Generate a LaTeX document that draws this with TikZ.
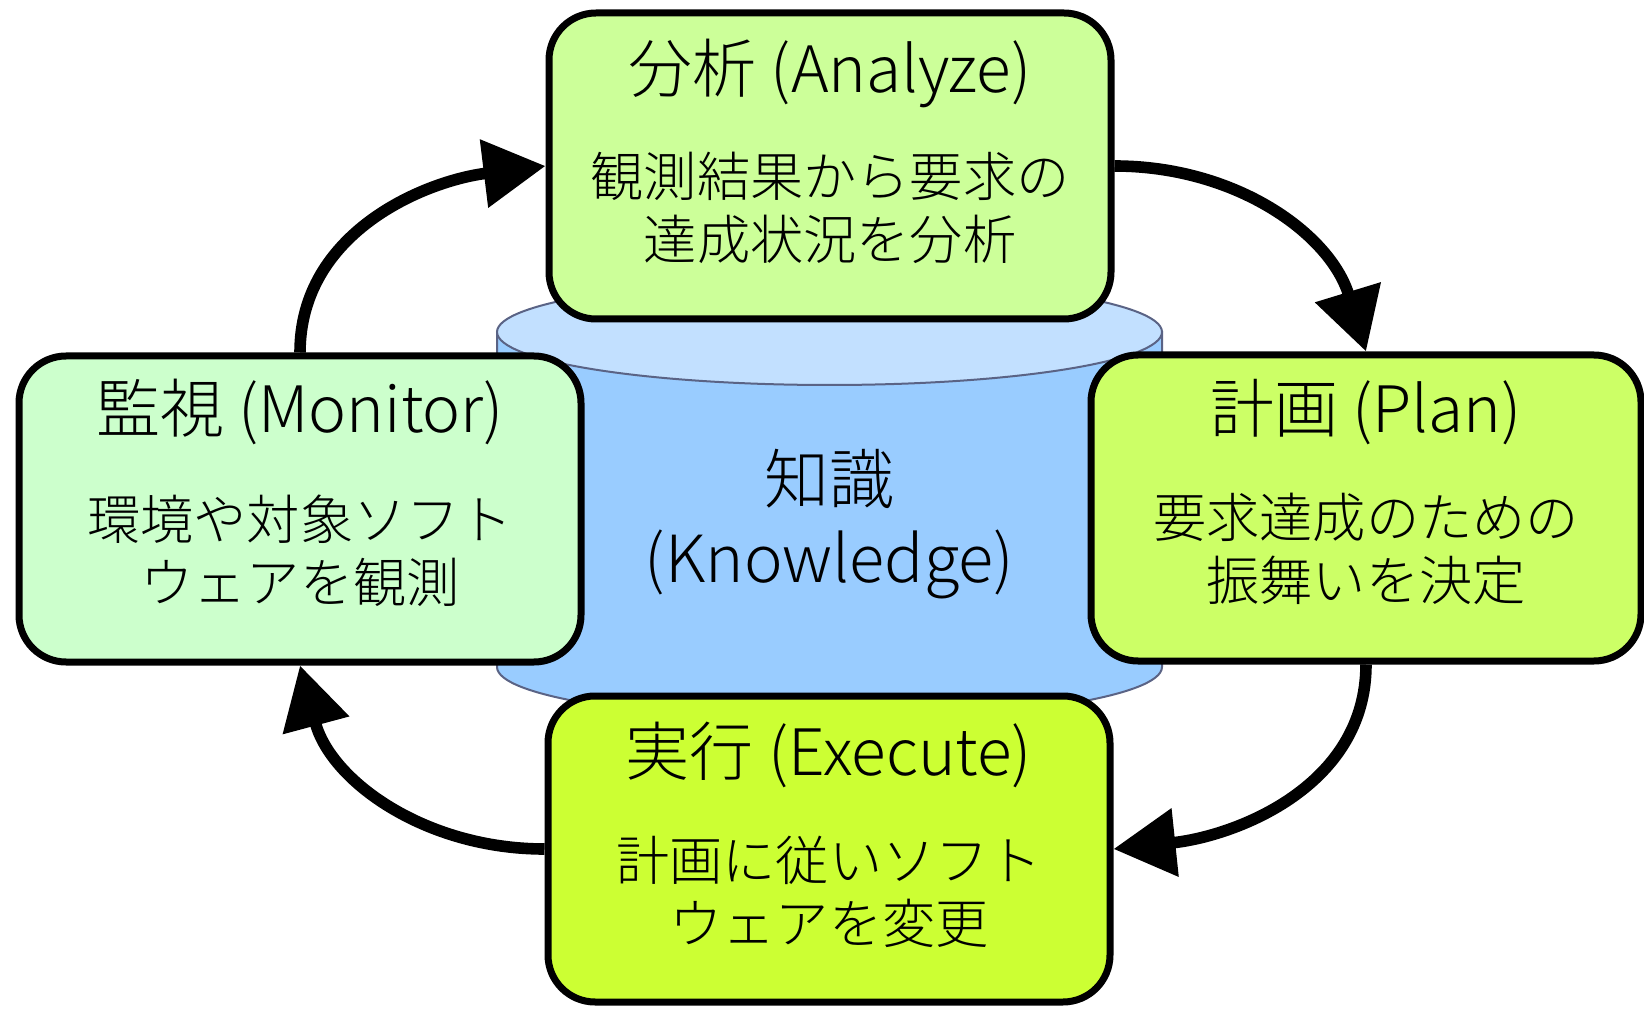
\documentclass[tikz,border=0pt]{standalone}
\usepackage{fontspec}
\setmainfont{Noto Sans CJK JP}[UprightFont={* Light}]
\usetikzlibrary{arrows.meta}
\definecolor{anafill}{HTML}{CCFF99}
\definecolor{monfill}{HTML}{CCFFCC}
\definecolor{planfill}{HTML}{CCFF66}
\definecolor{exefill}{HTML}{CCFF33}
\definecolor{cylside}{HTML}{99CCFF}
\definecolor{cyltop}{HTML}{C2E0FF}
\definecolor{cylline}{HTML}{5A6385}
\begin{document}
\begin{tikzpicture}[x=0.5pt,y=0.5pt,
  phase/.style={draw=black, line width=3.5pt, rounded corners=23.5pt,
    minimum width=281pt, minimum height=153pt, inner sep=0pt},
  phasetitle/.style={font=\fontsize{32}{36}\selectfont, inner sep=0pt},
  phasedesc/.style={font=\fontsize{26.6}{31.5}\selectfont, align=center, inner sep=0pt},
  flow/.style={line width=5.8pt, -{Triangle[length=31pt,width=33pt]}},
  store/.style={fill=cylside, draw=cylline, line width=1pt},
]
\useasboundingbox (0,0) rectangle (1644,1008);

% knowledge store (cylinder)
\path[store] (497,676) -- (497,341)
  arc[start angle=180, end angle=360, x radius=166.25pt, y radius=26.5pt]
  -- (1162,676) -- cycle;
\path[store, fill=cyltop] (829.5,676) ellipse [x radius=166.25pt, y radius=26.5pt];
\node[font=\fontsize{32.5}{39.5}\selectfont, align=center, inner sep=0pt]
  (know) at (829.5,484) {知識\\(Knowledge)};

% the four phases
\node[phase, fill=anafill] (ana) at (830,842) {};
\node[phasetitle] (anat) at (830,935) {分析 (Analyze)};
\node[phasedesc] (anad) at (830,800) {観測結果から要求の\\達成状況を分析};

\node[phase, fill=monfill] (mon) at (300,499) {};
\node[phasetitle] (mont) at (300,596) {監視 (Monitor)};
\node[phasedesc] (mond) at (300,457) {環境や対象ソフト\\ウェアを観測};

\node[phase, fill=planfill, minimum width=275pt] (plan) at (1366,500) {};
\node[phasetitle] (plant) at (1366,596) {計画 (Plan)};
\node[phasedesc] (pland) at (1366,459) {要求達成のための\\振舞いを決定};

\node[phase, fill=exefill] (exe) at (829,159) {};
\node[phasetitle] (exet) at (829,253) {実行 (Execute)};
\node[phasedesc] (exed) at (829,116) {計画に従いソフト\\ウェアを変更};

% control loop
\draw[flow] (mon.north) to[out=90, in=187] (ana.west);
\draw[flow] (ana.east) to[out=0, in=107] (plan.north);
\draw[flow] (plan.south) to[out=-90, in=6] (exe.east);
\draw[flow] (exe.west) to[out=180, in=-75] (mon.south);
\end{tikzpicture}
\end{document}
